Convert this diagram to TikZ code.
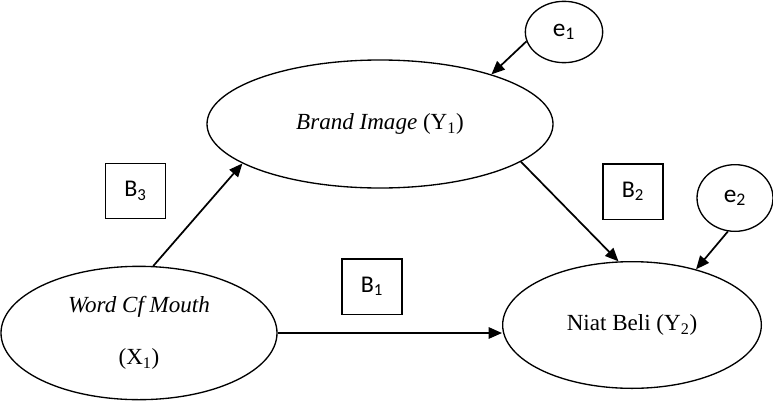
\documentclass[tikz,border=0pt]{standalone}
\usepackage{fontspec}
\setmainfont{Liberation Serif}
\newfontfamily\calib{Carlito}
\usepackage{tikz}
\usetikzlibrary{positioning, arrows.meta, shapes.geometric}

\begin{document}
\begin{tikzpicture}[x=0.75pt, y=-0.75pt,
  varnode/.style={ellipse, draw=black, line width=1pt, inner sep=0pt, font=\fontsize{17.3}{20}\selectfont},
  errnode/.style={ellipse, draw=black, line width=1pt, inner sep=0pt, font=\calib\fontsize{19}{22}\selectfont},
  boxnode/.style={rectangle, draw=black, line width=1pt, minimum width=45pt, minimum height=41.5pt, font=\calib\fontsize{18}{22}\selectfont},
  arr/.style={line width=1.3pt, -{Triangle[length=10pt, width=8.5pt]}}]
\useasboundingbox (0,0) rectangle (773,403);

\node[varnode, minimum width=207pt, minimum height=100pt, align=center] at (139,333) (wom) {\textit{Word Cf Mouth}\\[19pt](X\textsubscript{1})};
\node[varnode, minimum width=259.5pt, minimum height=96pt] at (380,124) (bi) {\textit{Brand Image} (Y\textsubscript{1})};
\node[varnode, minimum width=194pt, minimum height=95pt] at (632,325) (nb) {Niat Beli (Y\textsubscript{2})};
\node[errnode, minimum width=58pt, minimum height=46pt] at (564,32) (e1) {e\textsubscript{1}};
\node[errnode, minimum width=57pt, minimum height=50pt] at (735,198) (e2) {e\textsubscript{2}};

\node[boxnode] at (135.5,191) (b3) {B\textsubscript{3}};
\node[boxnode] at (372,286.5) (b1) {B\textsubscript{1}};
\node[boxnode] at (633,191.5) (b2) {B\textsubscript{2}};

\draw[arr] (wom.78) -- (bi.196.5);
\draw[arr] (bi.-15) -- (nb.102);
\draw[arr] (wom.east) -- (wom.east -| nb.west);
\draw[arr] (e1.194) -- (bi.24.5);
\draw[arr] (e2.258) -- (nb.41);

\end{tikzpicture}
\end{document}
